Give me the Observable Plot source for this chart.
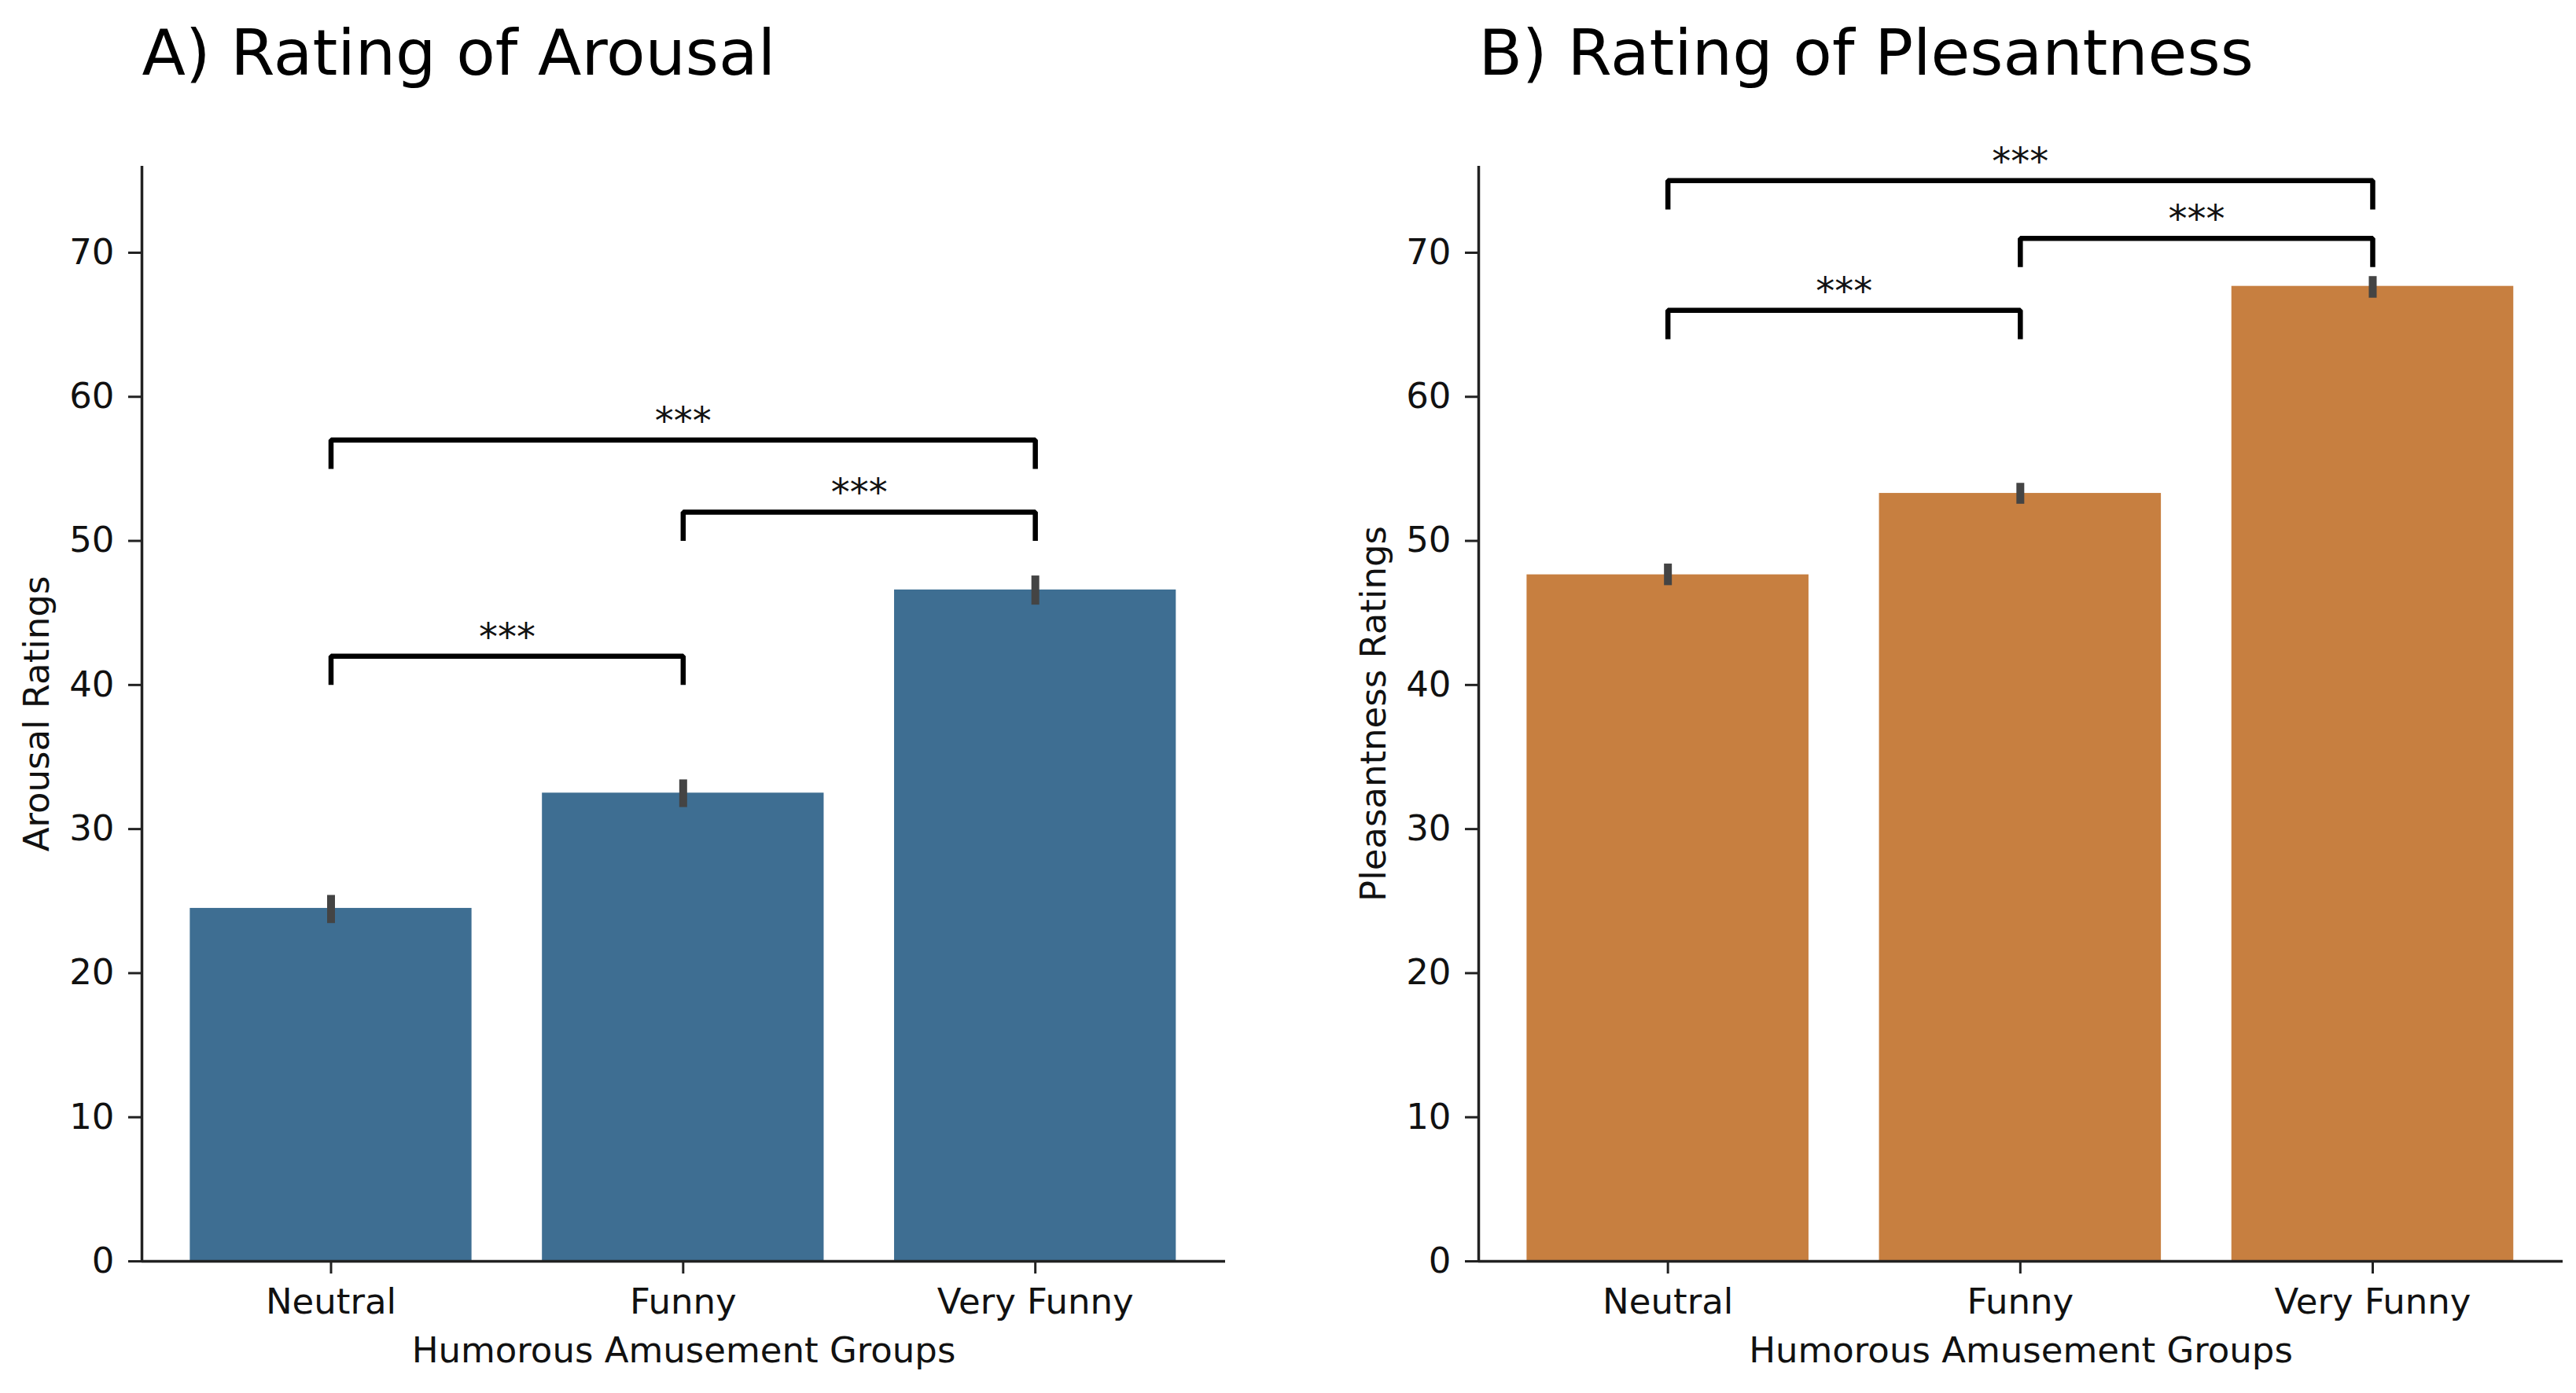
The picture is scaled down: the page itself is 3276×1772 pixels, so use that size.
<!DOCTYPE html>
<html>
<head>
<meta charset="utf-8">
<script src="https://cdn.jsdelivr.net/npm/d3@7"></script>
<script src="https://cdn.jsdelivr.net/npm/@observablehq/plot@0.6"></script>
<style>
  html, body { margin: 0; padding: 0; background: #ffffff; }
  #wrap { display: flex; flex-direction: row; width: 3276px; height: 1772px; }
  #wrap svg { display: block; }
</style>
</head>
<body>
<div id="wrap"></div>
<script>
// ---- data ----
const groups = ["Neutral", "Funny", "Very Funny"];
const arousalMean = [24.5, 32.5, 46.6];
const arousalLow  = [23.45, 31.5, 45.55];
const arousalHigh = [25.4, 33.42, 47.57];
const pleasMean = [47.65, 53.3, 67.67];
const pleasLow  = [46.9, 52.55, 66.85];
const pleasHigh = [48.4, 54.0, 68.35];
const yTicks = [0, 10, 20, 30, 40, 50, 60, 70];
const yDomain = [0, 76];
const xDomain = [-0.537, 2.54];
const arousalBrackets = [
  {a: "Neutral", b: "Funny", top: 42, foot: 40, label: "***"},
  {a: "Funny", b: "Very Funny", top: 52, foot: 50, label: "***"},
  {a: "Neutral", b: "Very Funny", top: 57, foot: 55, label: "***"}
];
const pleasBrackets = [
  {a: "Neutral", b: "Funny", top: 66, foot: 64, label: "***"},
  {a: "Funny", b: "Very Funny", top: 71, foot: 69, label: "***"},
  {a: "Neutral", b: "Very Funny", top: 75, foot: 73, label: "***"}
];

const FONT = "DejaVu Sans, Verdana, sans-serif";

function panel({title, ylabel, xlabel, means, lows, highs, brackets, color, marginLeft, marginRight}) {
  const data = groups.map((g, i) => ({g, i, mean: means[i], lo: lows[i], hi: highs[i]}));
  const idx = g => groups.indexOf(g);
  const path = [];
  brackets.forEach((b, k) => {
    path.push({k, x: idx(b.a), y: b.foot});
    path.push({k, x: idx(b.a), y: b.top});
    path.push({k, x: idx(b.b), y: b.top});
    path.push({k, x: idx(b.b), y: b.foot});
  });
  return Plot.plot({
    width: 1638,
    height: 1772,
    marginTop: 211,
    marginBottom: 168,
    marginLeft,
    marginRight,
    style: {fontFamily: FONT, fontSize: "45px", background: "white", color: "#111"},
    x: {type: "linear", domain: xDomain},
    y: {domain: yDomain},
    marks: [
      Plot.rectY(data, {x1: d => d.i - 0.4, x2: d => d.i + 0.4, y1: 0, y2: "mean", fill: color}),
      Plot.ruleX(data, {x: "i", y1: "lo", y2: "hi", stroke: "#444444", strokeWidth: 10}),
      Plot.line(path, {x: "x", y: "y", z: "k", stroke: "#000", strokeWidth: 6.5, strokeLinejoin: "miter", strokeLinecap: "butt"}),
      Plot.text(brackets, {x: d => (idx(d.a) + idx(d.b)) / 2, y: "top", text: "label", lineAnchor: "bottom", dy: -8, fontSize: 48, fill: "#111"}),
      Plot.ruleX([xDomain[0]], {stroke: "#222", strokeWidth: 3.5}),
      Plot.ruleY([0], {stroke: "#222", strokeWidth: 3.5}),
      Plot.axisY({ticks: yTicks, tickSize: 17, tickPadding: 18, fontSize: 45, label: null, stroke: "#222", strokeWidth: 3, fill: "#111"}),
      Plot.axisX({ticks: [0, 1, 2], tickFormat: i => groups[i], tickSize: 16, tickPadding: 19, fontSize: 45, label: null, stroke: "#222", strokeWidth: 3, fill: "#111"}),
      Plot.text([ylabel], {frameAnchor: "left", dx: -119, rotate: -90, textAnchor: "middle", lineAnchor: "bottom", fontSize: 45, fill: "#111"}),
      Plot.text([xlabel], {frameAnchor: "bottom", dy: 128, textAnchor: "middle", lineAnchor: "bottom", fontSize: 45, fill: "#111"}),
      Plot.text([title], {frameAnchor: "top-left", dy: -117, textAnchor: "start", lineAnchor: "bottom", fontSize: 81, fill: "#000"})
    ]
  });
}

const wrap = document.getElementById("wrap");
wrap.appendChild(panel({
  title: "A) Rating of Arousal",
  ylabel: "Arousal Ratings",
  xlabel: "Humorous Amusement Groups",
  means: arousalMean, lows: arousalLow, highs: arousalHigh,
  brackets: arousalBrackets, color: "#3e6e92",
  marginLeft: 180, marginRight: 80
}));
wrap.appendChild(panel({
  title: "B) Rating of Plesantness",
  ylabel: "Pleasantness Ratings",
  xlabel: "Humorous Amusement Groups",
  means: pleasMean, lows: pleasLow, highs: pleasHigh,
  brackets: pleasBrackets, color: "#c77f40",
  marginLeft: 242, marginRight: 17
}));
</script>
</body>
</html>
